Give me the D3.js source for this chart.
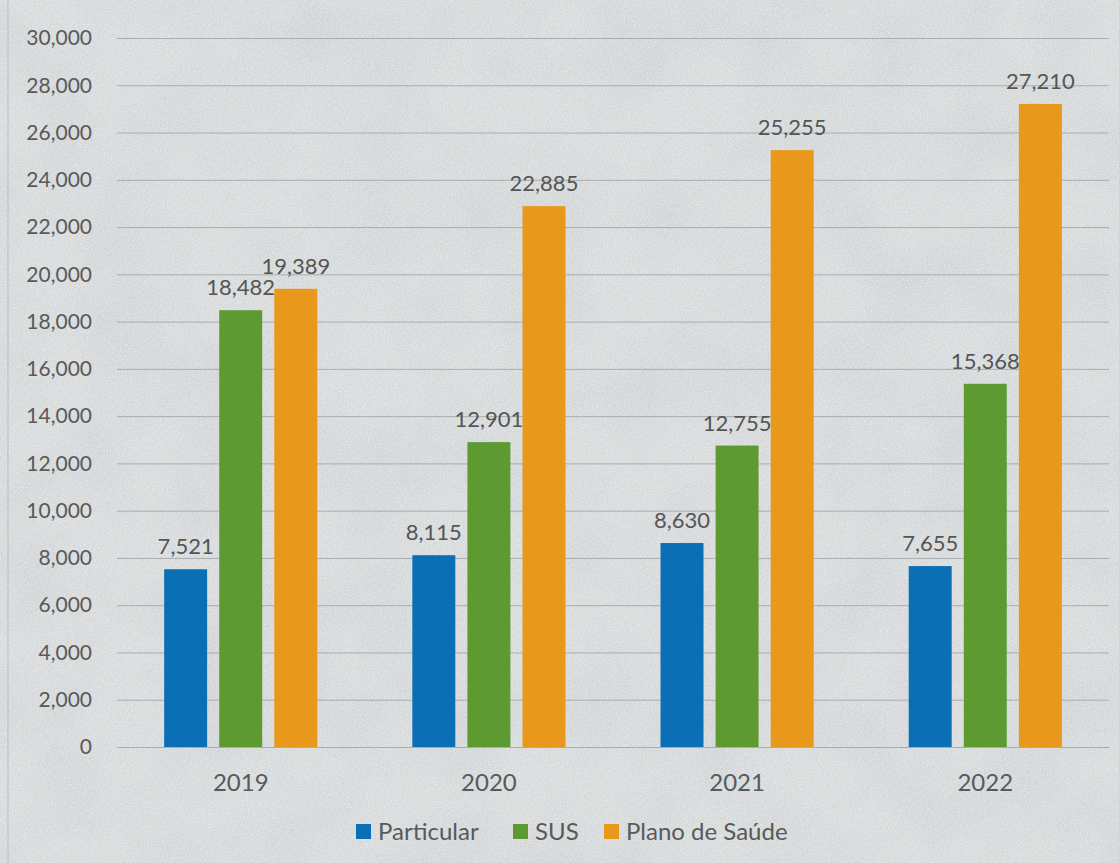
<!DOCTYPE html>
<html><head><meta charset="utf-8">
<script src="https://cdn.jsdelivr.net/npm/d3@7"></script>
<style>html,body{margin:0;padding:0;background:#d6dadb;}svg{display:block;}</style>
</head><body>
<script>
const years = ["2019","2020","2021","2022"];
const seriesNames = ["Particular","SUS","Plano de Saúde"];
const particular = [7521, 8115, 8630, 7655];
const sus = [18482, 12901, 12755, 15368];
const plano = [19389, 22885, 25255, 27210];
const yTicks = [0,2000,4000,6000,8000,10000,12000,14000,16000,18000,20000,22000,24000,26000,28000,30000];
const colors = ["#0a6fb5","#5e9a32","#e8981a"];

const W=1119,H=863;
const FONT="Lato, 'Open Sans', sans-serif";
const svg=d3.select("body").append("svg").attr("width",W).attr("height",H);
const defs=svg.append("defs");
const f=defs.append("filter").attr("id","tex").attr("x",0).attr("y",0).attr("width","100%").attr("height","100%");
f.append("feTurbulence").attr("type","fractalNoise").attr("baseFrequency",0.7).attr("numOctaves",2).attr("seed",3).attr("result","n");
f.append("feColorMatrix").attr("in","n").attr("type","matrix")
 .attr("values","0 0 0 0 1  0 0 0 0 1  0 0 0 0 1  1.2 0 0 0 -0.45");
const f2=defs.append("filter").attr("id","tex2").attr("x",0).attr("y",0).attr("width","100%").attr("height","100%");
f2.append("feTurbulence").attr("type","fractalNoise").attr("baseFrequency",0.012).attr("numOctaves",3).attr("seed",7).attr("result","n");
f2.append("feColorMatrix").attr("in","n").attr("type","matrix")
 .attr("values","0 0 0 0 0.55  0 0 0 0 0.58  0 0 0 0 0.6  0 0 0 -1.2 0.75");

svg.append("rect").attr("width",W).attr("height",H).attr("fill","#d7dadb");
svg.append("rect").attr("width",W).attr("height",H).attr("filter","url(#tex2)").attr("opacity",0.6);
svg.append("rect").attr("width",W).attr("height",H).attr("filter","url(#tex)").attr("opacity",0.7);

const m={l:117,r:1109,t:38,b:747};
const x0=d3.scaleBand().domain(years).range([m.l,m.r]).paddingInner(0.383).paddingOuter(0.19);
const x1=d3.scaleBand().domain(seriesNames).range([0,x0.bandwidth()]).paddingInner(0.22);
const y=d3.scaleLinear().domain([0,30000]).range([m.b,m.t]);

svg.append("line").attr("x1",8).attr("x2",8).attr("y1",0).attr("y2",H).attr("stroke","#b9bdbf").attr("stroke-width",1);

const fmt=d3.format(",");
const yAxis=svg.append("g").attr("transform",`translate(${m.l},0)`)
 .call(d3.axisLeft(y).tickValues(yTicks).tickSize(-(m.r-m.l)).tickPadding(25).tickFormat(fmt));
yAxis.select(".domain").remove();
yAxis.selectAll(".tick line").attr("stroke","#a9adb0").attr("stroke-width",1);
yAxis.selectAll(".tick text").attr("fill","#595959").style("font-family",FONT).style("font-size","21px");

const data=years.map((yr,i)=>({yr,vals:[particular[i],sus[i],plano[i]]}));
const g=svg.selectAll(".grp").data(data).enter().append("g").attr("transform",d=>`translate(${x0(d.yr)},0)`);
g.selectAll("rect").data(d=>d.vals.map((v,j)=>({v,s:seriesNames[j],c:colors[j]}))).enter().append("rect")
 .attr("x",d=>x1(d.s)).attr("width",x1.bandwidth()).attr("y",d=>y(d.v)).attr("height",d=>y(0)-y(d.v)).attr("fill",d=>d.c);
g.selectAll("text.v").data(d=>d.vals.map((v,j)=>({v,s:seriesNames[j]}))).enter().append("text")
 .attr("x",d=>x1(d.s)+x1.bandwidth()/2).attr("y",d=>y(d.v)-15).attr("text-anchor","middle")
 .attr("fill","#555").style("font-family",FONT).style("font-size","22px").text(d=>fmt(d.v));

const xAxis=svg.append("g").attr("transform",`translate(0,${m.b})`).call(d3.axisBottom(x0).tickSize(0));
xAxis.select(".domain").attr("stroke","#a9adb0");
xAxis.selectAll(".tick text").attr("y",44).attr("dy",0).attr("fill","#595959").style("font-family",FONT).style("font-size","24px");

const leg=svg.append("g").attr("transform","translate(0,832)");
const legX=[356,513,604];
seriesNames.forEach((s,i)=>{
  leg.append("rect").attr("x",legX[i]).attr("y",-8).attr("width",15).attr("height",15).attr("fill",colors[i]);
  leg.append("text").attr("x",legX[i]+22).attr("y",8).attr("fill","#595959")
   .style("font-family",FONT).style("font-size","24px").text(s);
});
</script>
</body></html>
